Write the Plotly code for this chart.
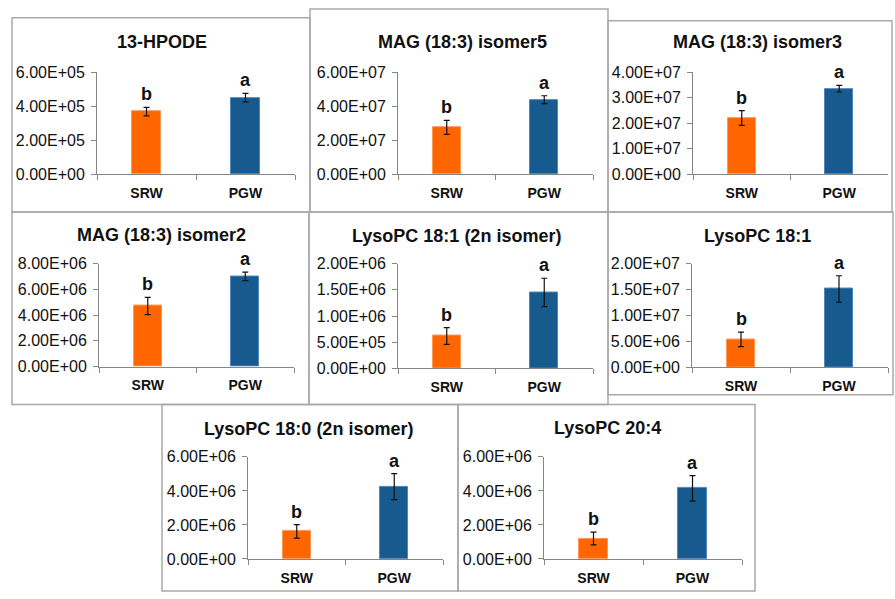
import plotly.graph_objects as go

# Two wheat groups compared for each lipid
groups = ["SRW", "PGW"]
compounds = [
    "13-HPODE",
    "MAG (18:3) isomer5",
    "MAG (18:3) isomer3",
    "MAG (18:3) isomer2",
    "LysoPC 18:1 (2n isomer)",
    "LysoPC 18:1",
    "LysoPC 18:0 (2n isomer)",
    "LysoPC 20:4",
]
srw_mean = [3.68e5, 2.75e7, 2.20e7, 4.70e6, 6.20e5, 5.40e6, 1.62e6, 1.20e6]
srw_err = [0.25e5, 0.41e7, 0.29e7, 0.67e6, 1.60e5, 1.40e6, 0.40e6, 0.37e6]
pgw_mean = [4.50e5, 4.38e7, 3.35e7, 7.00e6, 1.45e6, 1.51e7, 4.25e6, 4.15e6]
pgw_err = [0.25e5, 0.23e7, 0.13e7, 0.33e6, 2.70e5, 2.55e6, 0.76e6, 0.75e6]
srw_letter = ["b"] * 8
pgw_letter = ["a"] * 8
y_max = [6e5, 6e7, 4e7, 8e6, 2e6, 2e7, 6e6, 6e6]
y_step = [2e5, 2e7, 1e7, 2e6, 5e5, 5e6, 2e6, 2e6]

# Page geometry in pixels
W, H = 895, 599
# plot area per panel: left, right, top (max tick), bottom (zero)
plot_px = [
    (97, 295, 66, 171),
    (398, 593, 66, 171),
    (693, 888, 66, 171),
    (99, 294, 263, 369),
    (398, 593, 263, 371),
    (692, 888, 263, 370),
    (248, 443, 462, 567),
    (544, 742, 462, 567),
]
# framing box per panel: x0, y0, x1, y1
box_px = [
    (12, 10, 310, 210),
    (310, 1, 608, 210),
    (608, 13, 892, 210),
    (12, 210, 309, 408),
    (309, 210, 608, 408),
    (608, 210, 893, 398),
    (162, 408, 458, 600),
    (458, 408, 755, 600),
]
# panel heading centres
title_px = [
    (162, 35), (462, 35), (757, 35),
    (161, 234), (457, 235), (757, 235),
    (308, 433), (607, 432),
]

ORANGE = "#ff6600"
BLUE = "#175a8e"
AXIS = "#868686"
FONT = "Liberation Sans, Arial, sans-serif"

def px_x(x):
    return x / W

def px_y(y):
    return 1 - y / H

fig = go.Figure()
layout_axes = {}
annotations = []
shapes = []

for i, name in enumerate(compounds):
    n = i + 1
    xa = "x" if n == 1 else f"x{n}"
    ya = "y" if n == 1 else f"y{n}"
    left, right, top, bottom = plot_px[i]

    fig.add_trace(go.Bar(
        x=groups,
        y=[srw_mean[i], pgw_mean[i]],
        error_y=dict(type="data", array=[srw_err[i], pgw_err[i]],
                     color="#111111", thickness=1.2, width=3),
        marker=dict(color=[ORANGE, BLUE],
                    line=dict(color=["#ff9a55", "#4f86bd"], width=1)),
        width=0.29,
        xaxis=xa, yaxis=ya,
        showlegend=False,
    ))

    ticks = []
    v = 0.0
    while v <= y_max[i] * 1.0001:
        ticks.append(v)
        v += y_step[i]
    tick_text = [f"{t:.2E}" for t in ticks]

    layout_axes["xaxis" if n == 1 else f"xaxis{n}"] = dict(
        domain=[px_x(left), px_x(right)],
        anchor=ya,
        type="category",
        range=[-0.5, 1.5],
        showline=True, linecolor=AXIS, linewidth=1,
        ticks="outside", tickson="boundaries", ticklen=5, tickcolor=AXIS,
        tickfont=dict(family=FONT, size=14, color="#111111", weight="bold"),
        ticklabelstandoff=6,
        showgrid=False, zeroline=False, fixedrange=True,
    )
    layout_axes["yaxis" if n == 1 else f"yaxis{n}"] = dict(
        domain=[px_y(bottom), px_y(top)],
        anchor=xa,
        range=[0, y_max[i]],
        tickvals=ticks, ticktext=tick_text,
        showline=True, linecolor=AXIS, linewidth=1,
        ticks="outside", ticklen=5, tickcolor=AXIS,
        tickfont=dict(family=FONT, size=16, color="#111111"),
        ticklabelstandoff=3,
        showgrid=False, zeroline=False, fixedrange=True,
    )

    # significance letters above the error bars
    for g, mean, err, letter in ((groups[0], srw_mean[i], srw_err[i], srw_letter[i]),
                                 (groups[1], pgw_mean[i], pgw_err[i], pgw_letter[i])):
        annotations.append(dict(
            x=g, y=mean + err, xref=xa, yref=ya,
            text=letter, showarrow=False,
            yanchor="bottom", yshift=1,
            font=dict(family=FONT, size=18, color="#111111", weight="bold"),
        ))

    tx, ty = title_px[i]
    annotations.append(dict(
        x=px_x(tx), y=px_y(ty), xref="paper", yref="paper",
        text=name, showarrow=False, xanchor="center", yanchor="middle",
        font=dict(family=FONT, size=18, color="#111111", weight="bold"),
    ))

    x0, y0, x1, y1 = box_px[i]
    shapes.append(dict(
        type="rect", xref="paper", yref="paper",
        x0=px_x(x0), x1=px_x(x1), y0=px_y(y1), y1=px_y(y0),
        line=dict(color="#a9a9a9", width=1.5), fillcolor="rgba(0,0,0,0)",
        layer="below",
    ))

fig.update_layout(
    width=W, height=H,
    margin=dict(l=0, r=0, t=0, b=0),
    paper_bgcolor="white", plot_bgcolor="white",
    annotations=annotations, shapes=shapes,
    bargap=0,
    **layout_axes,
)

fig.write_html("out.html", config={"displayModeBar": False})
